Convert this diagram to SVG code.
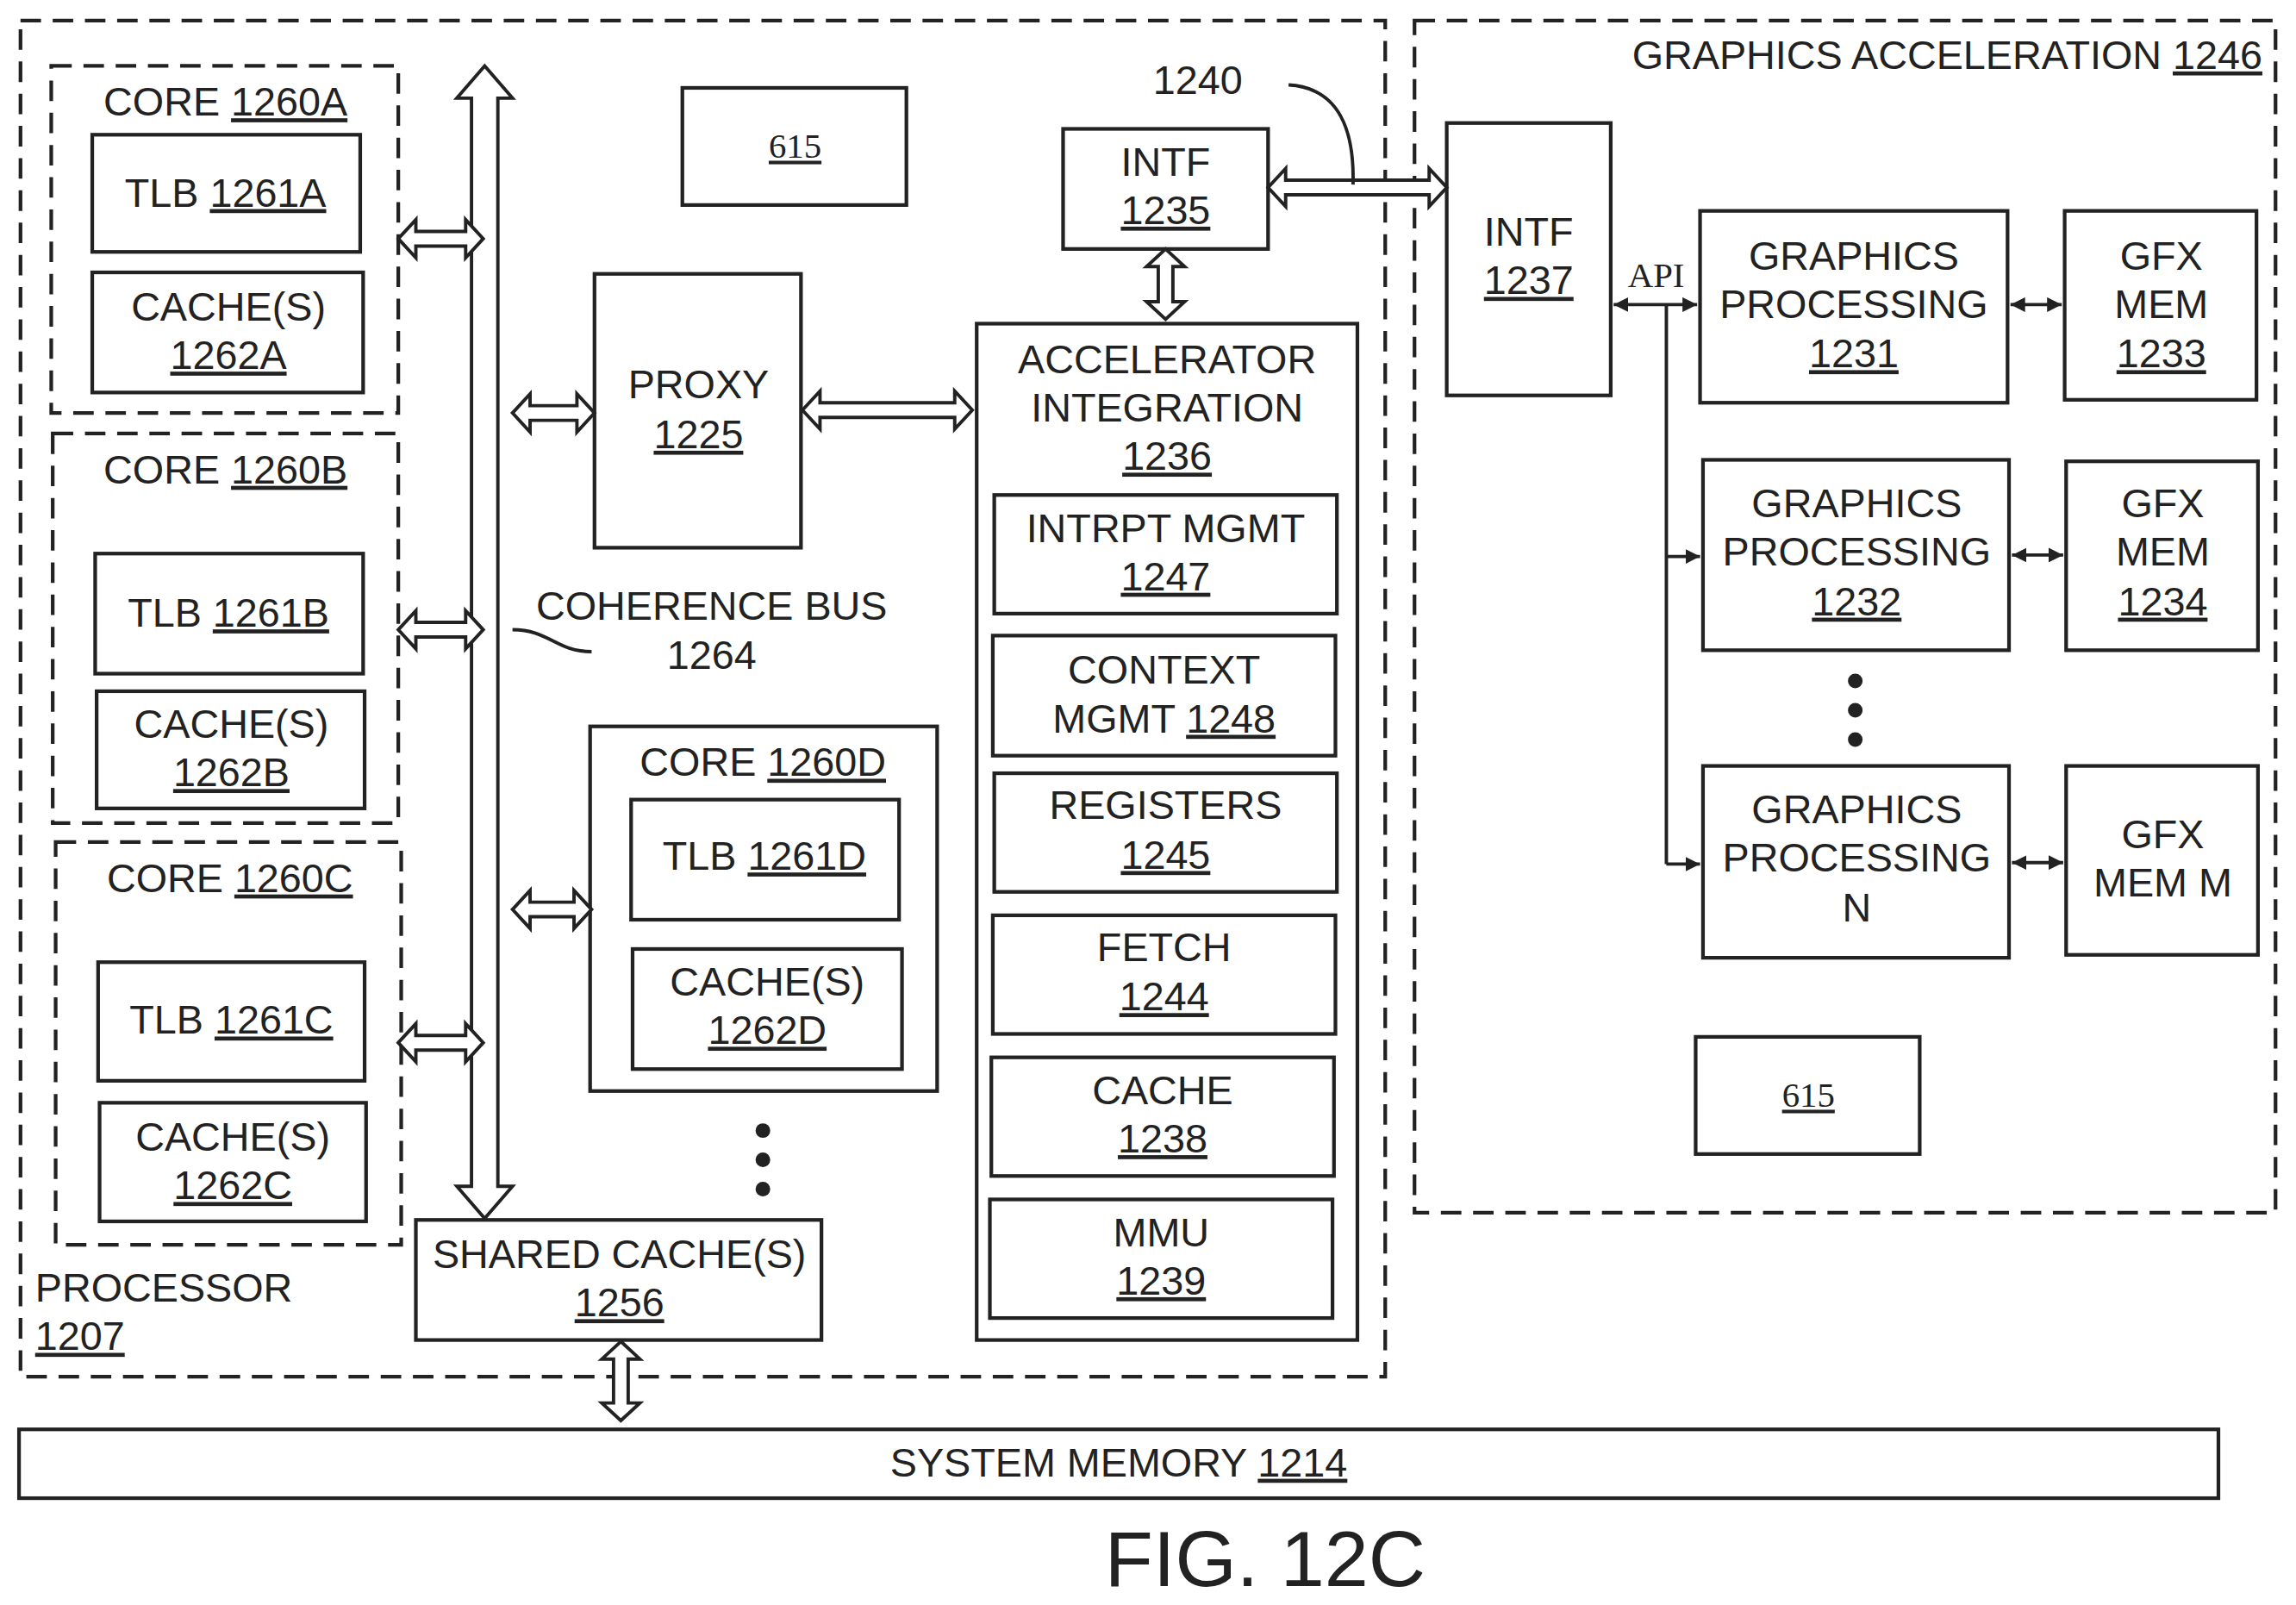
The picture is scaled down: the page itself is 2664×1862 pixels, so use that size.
<svg xmlns="http://www.w3.org/2000/svg" width="2664" height="1862" viewBox="0 0 2664 1862">
<style>
.b{fill:#fff;stroke:#222;stroke-width:2.5}
.d{fill:none;stroke:#222;stroke-width:2.5;stroke-dasharray:14 8}
.a{fill:#fff;stroke:#222;stroke-width:2.3;stroke-linejoin:miter}
.l{fill:none;stroke:#222;stroke-width:2.3}
text{font-family:"Liberation Sans",Arial,sans-serif;font-size:27.5px;fill:#222;text-anchor:middle}
.s{font-family:"Liberation Serif","Times New Roman",serif;font-size:24px}
.u{text-decoration:underline}
</style>
<defs>
<marker id="m" viewBox="0 0 10 10" refX="10" refY="5" markerWidth="10" markerHeight="10" markerUnits="userSpaceOnUse" orient="auto-start-reverse"><path d="M0,0L10,5L0,10z" fill="#222"/></marker>
</defs>
<rect width="2664" height="1862" fill="#fff"/>
<g transform="scale(1.699)">
<g id="processor"><rect class="d" x="14" y="14" width="932" height="926"/><text x="24" y="889" style="text-anchor:start">PROCESSOR</text><text x="24" y="922" style="text-anchor:start" class="u">1207</text></g>
<g id="gfxacc"><rect class="d" x="966" y="14" width="588" height="814"/><text x="1545" y="47" style="text-anchor:end">GRAPHICS ACCELERATION <tspan class="u">1246</tspan></text></g>
<g id="core1260A"><rect class="d" x="35" y="45" width="237" height="237"/><text x="154" y="79">CORE <tspan class="u">1260A</tspan></text>
<rect class="b" x="63" y="92" width="183" height="80"/><text x="154" y="141">TLB <tspan class="u">1261A</tspan></text>
<rect class="b" x="63" y="186" width="185" height="82"/><text x="156" y="219">CACHE(S)</text><text x="156" y="252" class="u">1262A</text></g>
<g id="core1260B"><rect class="d" x="36" y="296" width="236" height="266"/><text x="154" y="330">CORE <tspan class="u">1260B</tspan></text>
<rect class="b" x="65" y="378" width="183" height="82"/><text x="156" y="428">TLB <tspan class="u">1261B</tspan></text>
<rect class="b" x="66" y="472" width="183" height="80"/><text x="158" y="504">CACHE(S)</text><text x="158" y="537" class="u">1262B</text></g>
<g id="core1260C"><rect class="d" x="38" y="575" width="236" height="275"/><text x="157" y="609">CORE <tspan class="u">1260C</tspan></text>
<rect class="b" x="67" y="657" width="182" height="81"/><text x="158" y="706">TLB <tspan class="u">1261C</tspan></text>
<rect class="b" x="68" y="753" width="182" height="81"/><text x="159" y="786">CACHE(S)</text><text x="159" y="819" class="u">1262C</text></g>
<g id="n615a"><rect class="b" x="466" y="60" width="153" height="80"/><text x="543" y="108" class="s u">615</text></g>
<g id="intf1235"><rect class="b" x="726" y="88" width="140" height="82"/><text x="796" y="120">INTF</text><text x="796" y="153" class="u">1235</text></g>
<g id="proxy"><rect class="b" x="406" y="187" width="141" height="187"/><text x="477" y="272">PROXY</text><text x="477" y="306" class="u">1225</text></g>
<g id="buslabel"><text x="486" y="423">COHERENCE BUS</text><text x="486" y="457">1264</text></g>
<g id="core1260D"><rect class="b" x="403" y="496" width="237" height="249"/><text x="521" y="530">CORE <tspan class="u">1260D</tspan></text>
<rect class="b" x="431" y="546" width="183" height="82"/><text x="522" y="594">TLB <tspan class="u">1261D</tspan></text>
<rect class="b" x="432" y="648" width="184" height="82"/><text x="524" y="680">CACHE(S)</text><text x="524" y="713" class="u">1262D</text></g>
<g id="dotsD" fill="#222"><circle cx="521" cy="772" r="5"/><circle cx="521" cy="792" r="5"/><circle cx="521" cy="812" r="5"/></g>
<g id="sharedcache"><rect class="b" x="284" y="833" width="277" height="82"/><text x="423" y="866">SHARED CACHE(S)</text><text x="423" y="899" class="u">1256</text></g>
<g id="accel"><rect class="b" x="667" y="221" width="260" height="694"/><text x="797" y="255">ACCELERATOR</text><text x="797" y="288">INTEGRATION</text><text x="797" y="321" class="u">1236</text>
<rect class="b" x="679" y="338" width="234" height="81"/><text x="796" y="370">INTRPT MGMT</text><text x="796" y="403" class="u">1247</text>
<rect class="b" x="678" y="434" width="234" height="82"/><text x="795" y="467">CONTEXT</text><text x="795" y="500">MGMT <tspan class="u">1248</tspan></text>
<rect class="b" x="679" y="528" width="234" height="81"/><text x="796" y="559">REGISTERS</text><text x="796" y="593" class="u">1245</text>
<rect class="b" x="678" y="625" width="234" height="81"/><text x="795" y="656">FETCH</text><text x="795" y="690" class="u">1244</text>
<rect class="b" x="677" y="722" width="234" height="81"/><text x="794" y="754">CACHE</text><text x="794" y="787" class="u">1238</text>
<rect class="b" x="676" y="819" width="234" height="81"/><text x="793" y="851">MMU</text><text x="793" y="884" class="u">1239</text></g>
<g id="intf1237"><rect class="b" x="988" y="84" width="112" height="186"/><text x="1044" y="168">INTF</text><text x="1044" y="201" class="u">1237</text></g>
<g id="gp1231"><rect class="b" x="1161" y="144" width="210" height="131"/><text x="1266" y="184">GRAPHICS</text><text x="1266" y="217">PROCESSING</text><text x="1266" y="251" class="u">1231</text></g>
<g id="mem1233"><rect class="b" x="1410" y="144" width="131" height="129"/><text x="1476" y="184">GFX</text><text x="1476" y="217">MEM</text><text x="1476" y="251" class="u">1233</text></g>
<g id="gp1232"><rect class="b" x="1163" y="314" width="209" height="130"/><text x="1268" y="353">GRAPHICS</text><text x="1268" y="386">PROCESSING</text><text x="1268" y="420" class="u">1232</text></g>
<g id="mem1234"><rect class="b" x="1411" y="315" width="131" height="129"/><text x="1477" y="353">GFX</text><text x="1477" y="386">MEM</text><text x="1477" y="420" class="u">1234</text></g>
<g id="gpN"><rect class="b" x="1163" y="523" width="209" height="131"/><text x="1268" y="562">GRAPHICS</text><text x="1268" y="595">PROCESSING</text><text x="1268" y="629">N</text></g>
<g id="memM"><rect class="b" x="1411" y="523" width="131" height="129"/><text x="1477" y="579">GFX</text><text x="1477" y="612">MEM M</text></g>
<g id="dotsG" fill="#222"><circle cx="1267" cy="465" r="5"/><circle cx="1267" cy="485" r="5"/><circle cx="1267" cy="505" r="5"/></g>
<g id="n615b"><rect class="b" x="1158" y="708" width="153" height="80"/><text x="1235" y="756" class="s u">615</text></g>
<g id="sysmem"><rect class="b" x="13" y="976" width="1502" height="47"/><text x="764" y="1008">SYSTEM MEMORY <tspan class="u">1214</tspan></text></g>
<text x="864" y="1083" style="font-size:54px">FIG. 12C</text>
<g id="connectors">
<polygon class="a" points="331,45 350,67 340,67 340,810 350,810 331,832 312,810 322,810 322,67 312,67"/>
<polygon class="a" points="272,163 284,150 284,158 318,158 318,150 330,163 318,176 318,168 284,168 284,176"/>
<polygon class="a" points="272,430 284,417 284,425 318,425 318,417 330,430 318,443 318,435 284,435 284,443"/>
<polygon class="a" points="272,712 284,699 284,707 318,707 318,699 330,712 318,725 318,717 284,717 284,725"/>
<polygon class="a" points="350,282 362,269 362,277 394,277 394,269 406,282 394,295 394,287 362,287 362,295"/>
<polygon class="a" points="350,621 362,608 362,616 392,616 392,608 404,621 392,634 392,626 362,626 362,634"/>
<polygon class="a" points="548,280 560,267 560,275 652,275 652,267 664,280 652,293 652,285 560,285 560,293"/>
<polygon class="a" points="866,128 878,115 878,123 976,123 976,115 988,128 976,141 976,133 878,133 878,141"/>
<polygon class="a" points="796,170 809,182 801,182 801,206 809,206 796,218 783,206 791,206 791,182 783,182"/>
<polygon class="a" points="424,916 437,928 429,928 429,958 437,958 424,970 411,958 419,958 419,928 411,928"/>
<path class="l" d="M404,445 C380,445 375,430 350,430"/>
<text x="818" y="64">1240</text>
<path class="l" d="M880,58 C915,60 925,90 924,126"/>
<text x="1131" y="196" class="s">API</text>
<line class="l" x1="1102" y1="208" x2="1159" y2="208" marker-start="url(#m)" marker-end="url(#m)"/>
<path class="l" d="M1138,208 V590"/>
<line class="l" x1="1138" y1="380" x2="1161" y2="380" marker-end="url(#m)"/>
<line class="l" x1="1138" y1="590" x2="1161" y2="590" marker-end="url(#m)"/>
<line class="l" x1="1373" y1="208" x2="1408" y2="208" marker-start="url(#m)" marker-end="url(#m)"/>
<line class="l" x1="1374" y1="379" x2="1409" y2="379" marker-start="url(#m)" marker-end="url(#m)"/>
<line class="l" x1="1374" y1="589" x2="1409" y2="589" marker-start="url(#m)" marker-end="url(#m)"/>
</g>
</g>
</svg>
